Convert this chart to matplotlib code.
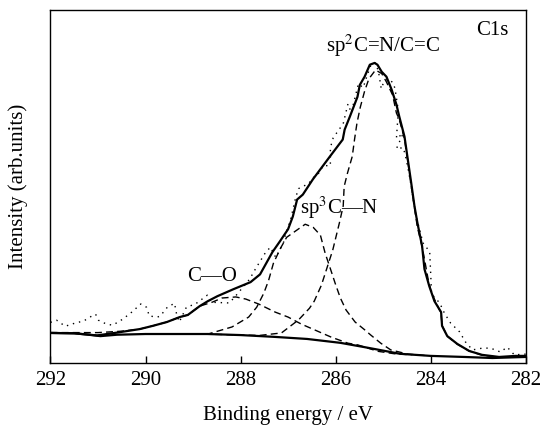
import matplotlib.pyplot as plt

plt.rcParams['font.family'] = ['Liberation Serif', 'DejaVu Serif']
plt.rcParams['mathtext.fontset'] = 'stix'

# 实测数据 (raw, dotted)
raw_x = [292.0, 291.87, 291.69, 291.48, 291.30, 291.13, 291.05, 290.99, 290.82, 290.69,
         290.48, 290.29, 290.10, 289.98, 289.92, 289.75, 289.69, 289.54, 289.39, 289.35,
         289.29, 289.14, 288.95, 288.70, 288.62, 288.24, 288.14, 287.83, 287.76, 287.68,
         287.47, 287.37, 287.26, 287.10, 287.05, 286.95, 286.84, 286.78, 286.57, 286.47,
         286.36, 286.26, 286.11, 286.11, 286.05, 285.84, 285.74, 285.67, 285.52, 285.42,
         285.36, 285.25, 285.17, 285.10, 285.04, 285.00, 284.90, 284.79, 284.75, 284.68,
         284.72, 284.58, 284.72, 284.58, 284.54, 284.48, 284.43, 284.31, 284.16, 284.02,
         283.98, 283.81, 283.71, 283.58, 283.39, 283.27, 283.12, 282.91, 282.74, 282.53,
         282.39, 282.24, 282.0]
raw_y = [11.5, 12.1, 10.4, 11.3, 11.9, 13.3, 13.8, 12.1, 11.0, 10.7,
         12.4, 14.4, 16.7, 15.8, 13.3, 13.0, 13.3, 15.8, 16.9, 14.1,
         11.6, 15.8, 16.7, 19.2, 17.2, 17.0, 18.4, 23.4, 24.9, 26.8,
         31.4, 32.8, 29.9, 33.9, 36.7, 40.4, 46.9, 49.4, 50.8, 52.5,
         53.7, 55.9, 55.9, 61.0, 63.8, 67.8, 73.4, 70.9, 79.1, 78.0,
         80.5, 84.7, 85.0, 82.8, 77.7, 79.1, 80.5, 79.4, 77.7, 71.5,
         63.6, 65.0, 60.7, 61.0, 59.3, 55.4, 51.7, 41.8, 34.0, 31.5,
         19.5, 17.0, 14.1, 11.3, 8.8, 6.0, 3.7, 4.2, 4.2, 3.1,
         4.5, 2.3, 2.5]

# 拟合包络线
fit_x = [292.0, 291.5, 291.02, 290.6, 290.12, 289.85, 289.55, 289.28, 289.11, 288.86,
         288.69, 288.49, 288.15, 287.79, 287.59, 287.33, 287.17, 287.0, 286.9, 286.81,
         286.69, 286.48, 286.12, 285.85, 285.81, 285.70, 285.54, 285.49, 285.39, 285.28,
         285.18, 285.12, 285.03, 284.93, 284.82, 284.72, 284.66, 284.55, 284.49, 284.41,
         284.34, 284.28, 284.18, 284.13, 284.03, 283.92, 283.78, 283.76, 283.65, 283.44,
         283.19, 282.92, 282.56, 282.21, 282.0]
fit_y = [8.5, 8.4, 7.8, 8.6, 9.6, 10.5, 11.6, 13.0, 13.6, 16.1,
         17.5, 18.9, 20.9, 22.9, 25.1, 31.4, 34.5, 37.9, 41.5, 46.3,
         47.7, 52.0, 58.5, 63.3, 66.1, 69.8, 75.4, 78.8, 81.1, 84.5,
         85.0, 84.5, 82.5, 81.1, 77.4, 73.2, 69.8, 64.1, 58.5, 51.1,
         44.4, 39.8, 33.1, 26.6, 21.8, 17.5, 14.4, 10.5, 7.6, 5.4,
         3.4, 2.3, 1.7, 2.0, 2.0]

# 分峰 sp2 C=N/C=C
sp2_x = [289.0, 288.5, 288.0, 287.6, 287.14, 286.78, 286.55, 286.45, 286.3, 286.18,
         286.06, 285.92, 285.84, 285.82, 285.75, 285.65, 285.6, 285.55, 285.48, 285.39,
         285.3, 285.16, 285.03, 284.93, 284.8, 284.72, 284.66, 284.55, 284.49, 284.41,
         284.34, 284.28, 284.18, 284.1, 284.05, 283.98, 283.78, 283.76, 283.65, 283.44,
         283.19, 282.92, 282.56, 282.21, 282.0]
sp2_y = [8.2, 8.1, 7.9, 7.8, 8.5, 12.2, 15.5, 17.5, 22.0, 27.0,
         32.0, 39.7, 44.5, 50.0, 53.8, 58.5, 63.5, 68.0, 72.5, 77.0,
         80.5, 83.0, 82.0, 79.6, 75.9, 70.8, 69.0, 63.5, 58.0, 50.5,
         44.0, 38.5, 33.0, 27.2, 23.5, 19.8, 14.0, 10.6, 7.6, 5.3,
         3.4, 2.2, 1.6, 1.9, 1.9]

# 分峰 sp3 C-N
sp3_x = [289.2, 288.66, 288.18, 287.83, 287.66, 287.51, 287.41, 287.31, 287.16, 287.03,
         286.82, 286.64, 286.47, 286.32, 286.22, 286.12, 286.01, 285.90, 285.78, 285.59,
         285.38, 285.26, 285.05, 284.84, 284.48, 284.1]
sp3_y = [8.2, 8.3, 10.2, 13.0, 15.8, 19.8, 23.4, 28.2, 32.5, 35.6,
         37.6, 39.3, 38.4, 36.2, 31.1, 27.1, 22.6, 18.4, 15.0, 11.6,
         9.3, 7.9, 5.6, 3.7, 2.5, 2.1]

# 分峰 C-O
co_x = [292.0, 291.0, 290.5, 290.12, 289.85, 289.55, 289.28, 289.11, 288.86, 288.6,
        288.39, 288.10, 287.89, 287.62, 287.27, 287.0, 286.72, 286.43, 286.09, 285.74,
        285.53, 285.11, 284.76, 284.4]
co_y = [8.6, 8.6, 9.0, 9.6, 10.5, 11.6, 13.0, 13.6, 16.1, 17.2,
        18.4, 18.7, 18.1, 16.7, 14.4, 13.0, 11.0, 9.3, 7.3, 5.6,
        5.1, 3.3, 2.6, 2.3]

# 背景线
bg_x = [292.0, 291.5, 291.2, 290.95, 290.6, 290.0, 289.0, 288.7, 288.0, 287.3,
        286.6, 285.9, 285.4, 285.0, 284.65, 284.0, 283.3, 282.7, 282.0]
bg_y = [8.5, 8.4, 8.0, 7.6, 8.0, 8.2, 8.2, 8.2, 7.9, 7.4,
        6.8, 5.7, 4.5, 3.5, 2.6, 2.0, 1.7, 1.4, 1.7]

fig = plt.figure(figsize=(5.4, 4.26), dpi=100)
ax = fig.add_axes([0.0935, 0.148, 0.88, 0.8285])

ax.plot(raw_x, raw_y, color='black', lw=1.0, linestyle=(0, (1, 3.5)))
ax.plot(sp2_x, sp2_y, color='black', lw=1.0, linestyle=(0, (5, 3)))
ax.plot(sp3_x, sp3_y, color='black', lw=1.0, linestyle=(0, (5, 3)))
ax.plot(co_x, co_y, color='black', lw=1.0, linestyle=(0, (5, 3)))
ax.plot(fit_x, fit_y, color='black', lw=1.6)
ax.plot(bg_x, bg_y, color='black', lw=1.6)

ax.set_xlim(292, 282)
ax.set_ylim(0, 100)
ax.set_xticks([292, 290, 288, 286, 284, 282])
ax.set_yticks([])
ax.tick_params(axis='x', direction='in', length=5, width=1, top=False,
               labelsize=15, pad=6)
for s in ax.spines.values():
    s.set_linewidth(1.0)

ax.set_xlabel('Binding energy / eV', fontsize=15, labelpad=11)
ax.set_ylabel('Intensity (arb.units)', fontsize=15, labelpad=16)

ax.text(282.7, 94.3, 'C1s', fontsize=15, ha='center', va='center')
ax.text(285.0, 90.0, r'sp$^2$C=N/C=C', fontsize=15, ha='center', va='center')
ax.text(285.93, 43.9, r'sp$^3$C—N', fontsize=15, ha='center', va='center')
ax.text(288.6, 24.4, 'C—O', fontsize=15, ha='center', va='center')

fig.savefig('out.png', dpi=100)
